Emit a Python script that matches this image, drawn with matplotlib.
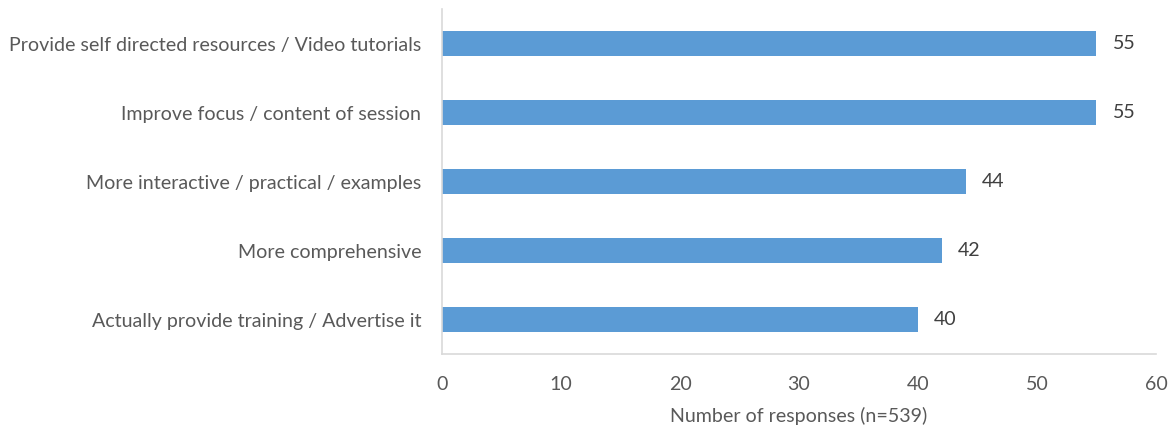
import matplotlib.pyplot as plt

# Responses per suggestion, bottom to top
categories = [
    'Actually provide training / Advertise it',
    'More comprehensive',
    'More interactive / practical / examples',
    'Improve focus / content of session',
    'Provide self directed resources / Video tutorials',
]
counts = [40, 42, 44, 55, 55]
xticks = [0, 10, 20, 30, 40, 50, 60]

plt.rcParams['font.family'] = ['Lato', 'DejaVu Sans']
text_col = '#595959'
fs = 14.1

fig = plt.figure(figsize=(11.73, 4.30), dpi=100)
ax = fig.add_axes([0.3768, 0.1767, 0.6087, 0.8023])

y = range(len(categories))
bars = ax.barh(y, counts, height=0.36, color='#5B9BD5')

for b, v in zip(bars, counts):
    ax.text(b.get_width() + 1.35, b.get_y() + b.get_height() / 2, str(v),
            va='center', ha='left', fontsize=fs, color='#404040')

ax.set_xlim(0, 60)
ax.set_ylim(-0.5, len(categories) - 0.5)
ax.set_xticks(xticks)
ax.set_yticks(list(y))
ax.set_yticklabels(categories)
ax.tick_params(axis='both', length=0, labelsize=fs, labelcolor=text_col)
ax.tick_params(axis='x', pad=16)
ax.tick_params(axis='y', pad=15)
ax.set_xlabel('Number of responses (n=539)', fontsize=fs, color=text_col,
              labelpad=10)

for s in ['top', 'right']:
    ax.spines[s].set_visible(False)
for s in ['left', 'bottom']:
    ax.spines[s].set_color('#D9D9D9')
    ax.spines[s].set_linewidth(1.2)

fig.savefig('out.png', dpi=100)
